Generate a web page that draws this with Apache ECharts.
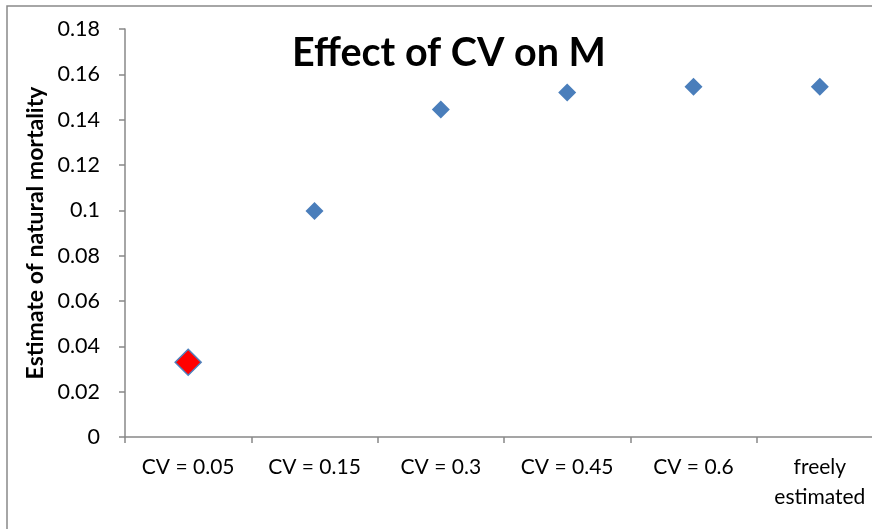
<!DOCTYPE html>
<html>
<head>
<meta charset="utf-8">
<script src="https://cdn.jsdelivr.net/npm/echarts@6/dist/echarts.min.js"></script>
<style>
  html, body { margin: 0; padding: 0; background: #fff; }
  #chart { width: 872px; height: 529px; }
</style>
</head>
<body>
<div id="chart"></div>
<script>
// Categories along the x axis
const categories = ['CV = 0.05', 'CV = 0.15', 'CV = 0.3', 'CV = 0.45', 'CV = 0.6', 'freely\nestimated'];
// Estimated natural mortality for each setting
const mortality = [0.033, 0.0997, 0.1445, 0.152, 0.1545, 0.1545];
// Setting drawn as the highlighted marker
const highlightIndex = 0;
const yTicks = { min: 0, max: 0.18, step: 0.02 };

const font = 'Lato, "Open Sans", sans-serif';
const chart = echarts.init(document.getElementById('chart'), null, { renderer: 'canvas' });

const seriesData = mortality.map((v, i) => i === highlightIndex
  ? { value: v, symbolSize: 26, itemStyle: { color: '#ff0000', borderColor: '#4f81bd', borderWidth: 1.5, opacity: 1 }, z: 5 }
  : v);

chart.setOption({
  animation: false,
  backgroundColor: '#ffffff',
  title: {
    text: 'Effect of CV on M',
    left: 444,
    top: 28,
    textAlign: 'center',
    textStyle: { fontFamily: font, fontWeight: 'bold', fontSize: 39.5, color: '#000' }
  },
  graphic: [{
    type: 'rect',
    shape: { x: 7, y: 6, width: 900, height: 600 },
    style: { fill: 'none', stroke: '#898989', lineWidth: 1.5 },
    silent: true
  }],
  grid: { left: 125, top: 29, width: 758, height: 408, outerBoundsMode: 'none' },
  xAxis: {
    type: 'category',
    data: categories,
    boundaryGap: true,
    axisLine: { lineStyle: { color: '#888888', width: 1.5 } },
    axisTick: { show: true, inside: false, length: 6, alignWithLabel: false, lineStyle: { color: '#888888', width: 1.5 } },
    axisLabel: { fontFamily: font, fontSize: 21, color: '#000', margin: 15, lineHeight: 30, interval: 0 }
  },
  yAxis: {
    type: 'value',
    min: yTicks.min,
    max: yTicks.max,
    interval: yTicks.step,
    name: 'Estimate of natural mortality',
    nameLocation: 'middle',
    nameGap: 70,
    nameTextStyle: { fontFamily: font, fontWeight: 'bold', fontSize: 23, color: '#000' },
    axisLine: { show: true, lineStyle: { color: '#888888', width: 1.5 } },
    axisTick: { show: true, length: 6, lineStyle: { color: '#888888', width: 1.5 } },
    splitLine: { show: false },
    axisLabel: {
      fontFamily: font, fontSize: 21.5, color: '#000', margin: 25,
      formatter: v => String(parseFloat(v.toFixed(2)))
    }
  },
  series: [{
    type: 'scatter',
    data: seriesData,
    symbol: 'diamond',
    symbolSize: 18,
    itemStyle: { color: '#4a7ebb', opacity: 1 }
  }]
});
</script>
</body>
</html>
